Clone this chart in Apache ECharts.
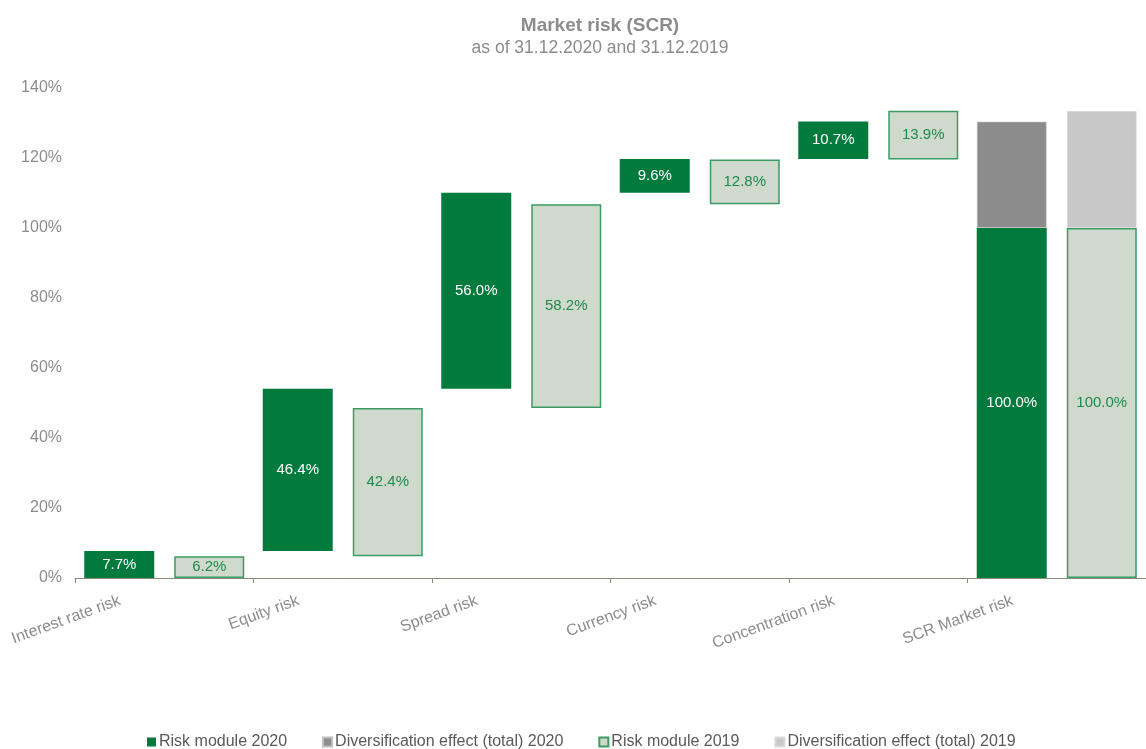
<!DOCTYPE html>
<html>
<head>
<meta charset="utf-8">
<script src="https://cdn.jsdelivr.net/npm/echarts@6/dist/echarts.min.js"></script>
<style>html,body{margin:0;padding:0;background:#fff}#c{width:1146px;height:749px}</style>
</head>
<body>
<div id="c"></div>
<script>
const categories = ['Interest rate risk', 'Equity risk', 'Spread risk', 'Currency risk', 'Concentration risk', 'SCR Market risk'];
const risk2020 = [7.7, 46.4, 56.0, 9.6, 10.7, 100.0];
const risk2019 = [6.2, 42.4, 58.2, 12.8, 13.9, 100.0];
const div2020 = [null, null, null, null, null, 30.4];
const div2019 = [null, null, null, null, null, 33.5];
const yTicks = [0, 20, 40, 60, 80, 100, 120, 140];

// waterfall offsets (invisible base) from the module values
function bases(vals) {
  const out = [];
  let acc = 0;
  for (let i = 0; i < vals.length; i++) {
    if (i === vals.length - 1) { out.push(0); }
    else { out.push(acc); acc += vals[i]; }
  }
  return out;
}
const base2020 = bases(risk2020);
const base2019 = bases(risk2019);

const FONT = 'Liberation Sans, Arial, sans-serif';
const GREEN = '#007A3D';
const LIGHT = '#CFDACC';
const LBORDER = '#3A9C64';
const GRAY = '#8C8C8C';
const fmt = p => p.value.toFixed(1) + '%';

const chart = echarts.init(document.getElementById('c'), null, {renderer: 'canvas'});
chart.setOption({
  animation: false,
  backgroundColor: '#fff',
  textStyle: {fontFamily: FONT},
  title: {
    text: 'Market risk (SCR)',
    subtext: 'as of 31.12.2020 and 31.12.2019',
    left: 595, top: 11, textAlign: 'center', itemGap: 4,
    textStyle: {color: GRAY, fontSize: 19, fontWeight: 'bold', fontFamily: FONT},
    subtextStyle: {color: GRAY, fontSize: 17.5, fontFamily: FONT}
  },
  legend: {
    bottom: -6, left: 142,
    itemWidth: 9, itemHeight: 9, itemGap: 35,
    icon: 'rect',
    textStyle: {color: '#595959', fontSize: 16, fontFamily: FONT, padding: [0, 0, 0, -2]},
    data: ['Risk module 2020', 'Diversification effect (total) 2020', 'Risk module 2019', 'Diversification effect (total) 2019']
  },
  grid: {left: 75, right: -9, top: 88, bottom: 171, containLabel: false},
  xAxis: {
    type: 'category', data: categories,
    axisLine: {lineStyle: {color: '#8C8C7C', width: 1}},
    axisTick: {show: true, length: 5, lineStyle: {color: '#8C8C7C'}},
    axisLabel: {rotate: 20, color: GRAY, fontSize: 16, fontFamily: FONT, margin: 6, interval: 0, padding: [0, 47, 0, 0]}
  },
  yAxis: {
    type: 'value', min: 0, max: 140, interval: 20,
    axisLabel: {formatter: v => yTicks.includes(v) ? v + '%' : '', color: GRAY, fontSize: 16, fontFamily: FONT, margin: 13},
    axisLine: {show: false}, axisTick: {show: false}, splitLine: {show: false}
  },
  series: [
    {name: 'base2020', type: 'bar', stack: 'a', data: base2020, barWidth: 70, barGap: '28.6%',
     itemStyle: {color: 'transparent'}, emphasis: {disabled: true}, silent: true},
    {name: 'Risk module 2020', type: 'bar', stack: 'a', data: risk2020, barWidth: 70,
     itemStyle: {color: GREEN},
     label: {show: true, position: 'inside', color: '#fff', fontSize: 15, fontFamily: FONT, formatter: fmt}},
    {name: 'Diversification effect (total) 2020', type: 'bar', stack: 'a', data: div2020, barWidth: 70,
     itemStyle: {color: '#8C8C8C', borderColor: '#BDBDBD', borderWidth: 1, borderType: 'dotted'}},
    {name: 'base2019', type: 'bar', stack: 'b', data: base2019, barWidth: 70, barGap: '28.6%',
     itemStyle: {color: 'transparent'}, emphasis: {disabled: true}, silent: true},
    {name: 'Risk module 2019', type: 'bar', stack: 'b', data: risk2019, barWidth: 70,
     itemStyle: {color: LIGHT, borderColor: LBORDER, borderWidth: 1.5},
     label: {show: true, position: 'inside', color: '#1F8A4C', fontSize: 15, fontFamily: FONT, formatter: fmt}},
    {name: 'Diversification effect (total) 2019', type: 'bar', stack: 'b', data: div2019, barWidth: 70,
     itemStyle: {color: '#C8C8C8', borderColor: '#DADADA', borderWidth: 1, borderType: 'dotted'}}
  ]
});
</script>
</body>
</html>
